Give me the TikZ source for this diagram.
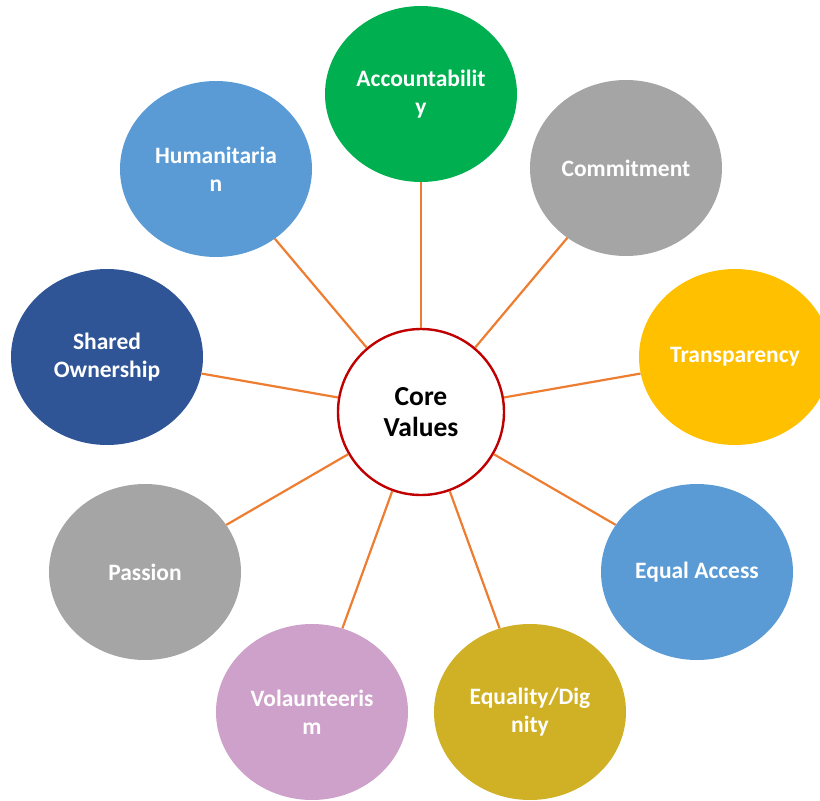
\documentclass[tikz,border=0pt]{standalone}
\usepackage{fontspec}
\setmainfont{Carlito}
\usepackage{tikz}
\usetikzlibrary{positioning,shapes.geometric}
\usepackage{xcolor}

\definecolor{accgreen}{HTML}{00B050}
\definecolor{valgray}{HTML}{A5A5A5}
\definecolor{valgold}{HTML}{FFC000}
\definecolor{valblue}{HTML}{5B9BD5}
\definecolor{valolive}{HTML}{D0B025}
\definecolor{valpink}{HTML}{CDA1C9}
\definecolor{valnavy}{HTML}{2F5597}
\definecolor{linkorange}{HTML}{ED7D31}
\definecolor{corered}{HTML}{C00000}

\begin{document}
\begin{tikzpicture}[x=1pt,y=-1pt,font=\bfseries]

\tikzstyle{value}=[ellipse,minimum width=192pt,minimum height=176pt,inner sep=0pt,
    text=white,align=center,font=\fontsize{23.5}{28}\selectfont\bfseries]
\tikzstyle{core}=[circle,draw=corered,line width=2.4pt,fill=white,minimum size=166pt,
    inner sep=0pt,align=center,font=\fontsize{27.5}{31}\selectfont\bfseries]
\tikzstyle{link}=[draw=linkorange,line width=2.2pt]

    \useasboundingbox (0,0) rectangle (820,801);
    \clip (0,0) rectangle (820,801);

    \node[core] (CV) at (421,412) {Core\\ Values};

    \node[value, fill=accgreen] (Acc) at (421,94) {Accountabilit\\ y};
    \node[value, fill=valgray] (Com) at (626,168) {Commitment};
    \node[value, fill=valgold] (Tra) at (735,357) {Transparency};
    \node[value, fill=valblue] (EqA) at (697,572) {Equal Access};
    \node[value, fill=valolive] (EqD) at (530,712) {Equality/Dig\\ nity};
    \node[value, fill=valpink] (Vol) at (312,712) {Volaunteeris\\ m};
    \node[value, fill=valgray] (Pas) at (145,572) {Passion};
    \node[value, fill=valnavy] (Sha) at (107,357) {Shared\\ Ownership};
    \node[value, fill=valblue] (Hum) at (216,169) {Humanitaria\\ n};

\foreach \v in {Acc,Com,Tra,EqA,EqD,Vol,Pas,Sha,Hum}
    \path[link] (CV) -- (\v);
\end{tikzpicture}
\end{document}
